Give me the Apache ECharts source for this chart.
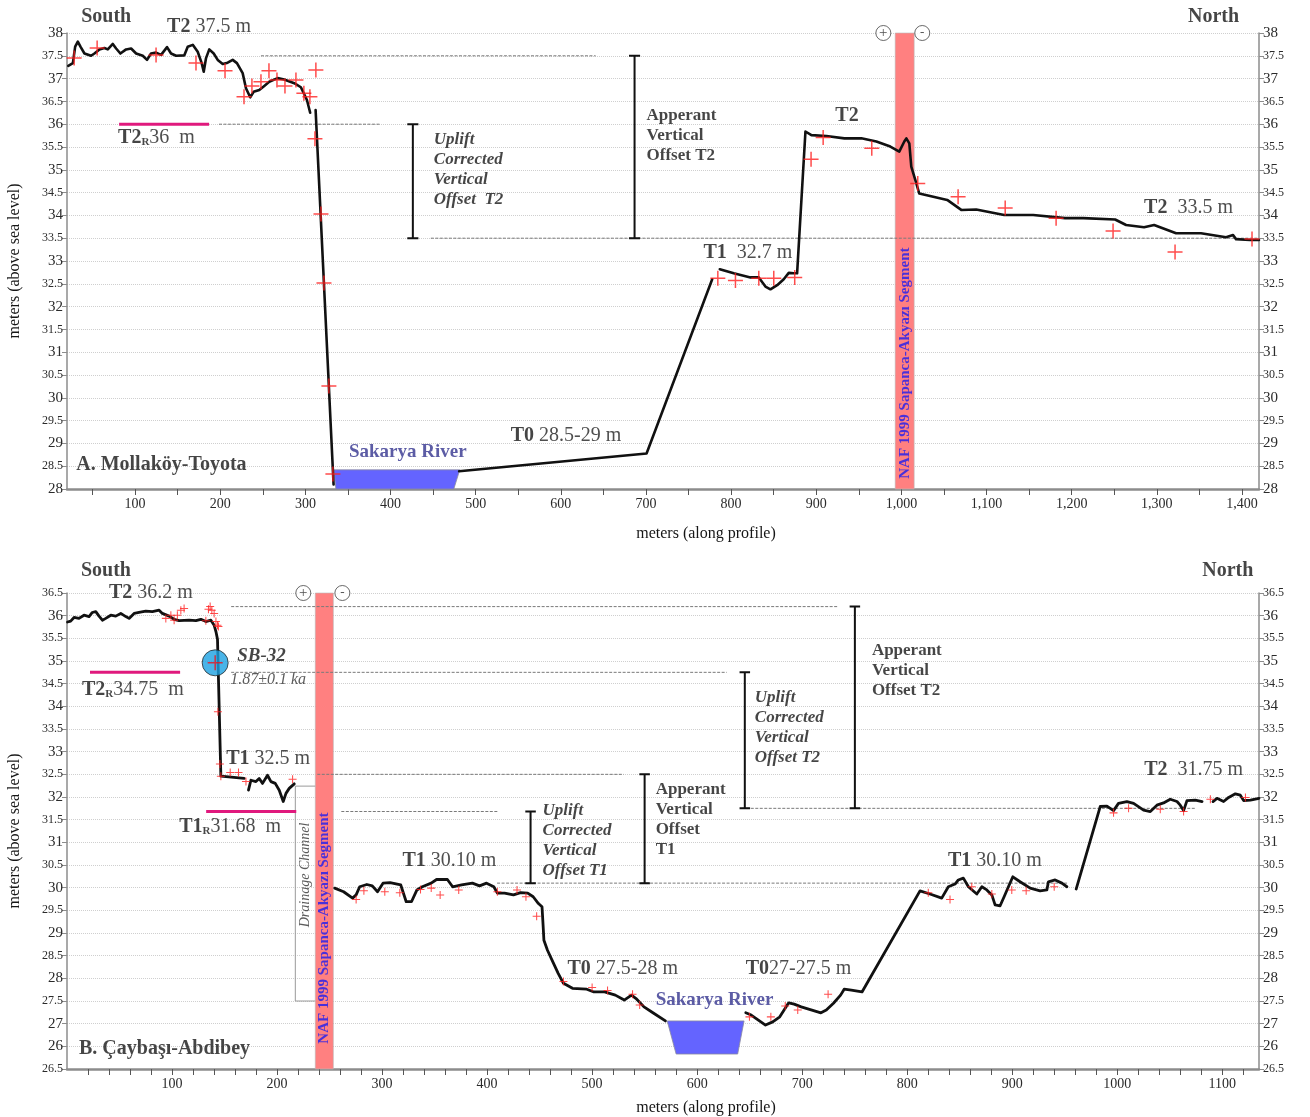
<!DOCTYPE html>
<html>
<head>
<meta charset="utf-8">
<script src="https://cdn.jsdelivr.net/npm/echarts@6/dist/echarts.min.js"></script>
<style>
  html, body { margin: 0; padding: 0; background: #fff; }
  #chart { width: 1310px; height: 1117px; }
</style>
</head>
<body>
<div id="chart"></div>
<script>
// ================= Panel A: Mollaköy-Toyota =================
const topYTickLabels = ['28','28.5','29','29.5','30','30.5','31','31.5','32','32.5','33','33.5','34','34.5','35','35.5','36','36.5','37','37.5','38'];
const topXLabelValues = [100,200,300,400,500,600,700,800,900,1000,1100,1200,1300,1400];
const topXLabels = ['100','200','300','400','500','600','700','800','900','1,000','1,100','1,200','1,300','1,400'];
const topXTickValues = [50,100,150,200,250,300,350,400,450,500,550,600,650,700,750,800,850,900,950,1000,1050,1100,1150,1200,1250,1300,1350,1400];

// elevation profile (distance m, elevation m)
const topSouthTerrace = [[21.5,37.28],[26.9,37.34],[29.6,37.70],[32.7,37.81],[35.8,37.70],[40.5,37.55],[48.3,37.50],[52.2,37.55],[58.1,37.64],[63.9,37.67],[67.9,37.64],[73.8,37.76],[77.7,37.66],[82.7,37.55],[89.4,37.64],[95.3,37.66],[101.2,37.55],[109.0,37.50],[114.0,37.41],[118.7,37.55],[124.6,37.57],[130.5,37.52],[137.5,37.69],[142.2,37.55],[148.1,37.50],[157.8,37.51],[161.8,37.70],[167.7,37.74],[173.5,37.59],[178.2,37.34],[180.6,37.15],[183.3,37.45],[187.1,37.64],[192.3,37.55],[197.0,37.41],[202.9,37.32],[208.7,37.35],[214.6,37.41],[219.6,37.34],[226.3,37.12],[230.2,36.79],[235.2,36.59],[239.2,36.71],[245.8,36.75],[251.7,36.84],[257.5,36.93],[267.4,37.01],[275.1,36.98],[286.9,36.90],[294.7,36.81],[301.8,36.53],[305.6,36.25]];
const topScarp = [[312.0,36.31],[333.1,28.10]];
const topT0 = [[480.5,28.39],[700.7,28.78],[777.8,32.60]];
const topNorth = [[786.7,32.82],[803.1,32.73],[822.7,32.64],[832.5,32.64],[840.3,32.44],[846.2,32.38],[854.1,32.47],[861.8,32.60],[867.7,32.74],[873.5,32.73],[877.5,32.73],[887.3,35.84],[894.3,35.76],[911.9,35.74],[933.0,35.69],[953.0,35.69],[970.6,35.62],[987.0,35.51],[997.5,35.40],[1003.4,35.62],[1005.8,35.69],[1009.3,35.58],[1011.6,35.07],[1016.3,34.78],[1021.0,34.48],[1037.4,34.41],[1053.8,34.34],[1070.3,34.12],[1087.9,34.13],[1120.7,34.01],[1154.8,34.01],[1192.3,33.94],[1213.5,33.94],[1251.0,33.91],[1263.9,33.79],[1285.0,33.74],[1296.8,33.79],[1322.6,33.61],[1351.9,33.61],[1381.3,33.52],[1389.5,33.57],[1393.0,33.48],[1409.4,33.46],[1420,33.46]];
const topSurveyPoints = [[28.4,37.45],[55.4,37.67],[124.6,37.52],[171.5,37.34],[205.6,37.17],[227.9,36.60],[237.2,36.84],[247.8,36.93],[257.2,37.17],[266.6,36.97],[276.0,36.84],[288.9,36.97],[298.2,36.68],[305.3,36.60],[312.3,37.19],[311.2,35.68],[318.3,34.03],[321.8,32.52],[327.6,30.26],[332.3,28.33],[784.4,32.62],[805.1,32.57],[832.5,32.62],[850.1,32.62],[874.7,32.64],[893.9,35.23],[908.1,35.71],[965.2,35.47],[1019.2,34.70],[1066.6,34.41],[1121.9,34.16],[1181.7,33.94],[1248.6,33.66],[1321.4,33.20],[1411.8,33.48]];
const topRiver = [[333.5,28.42],[481.3,28.42],[474.3,28.0],[335.8,28.0]];
const topFaultZone = [992.7, 1015.0];
// terrace levels (m)
const topT2South = 37.5, topT2Restored = 36, topT2North = 33.5;
const topRefSpans = [[topT2South, 247.8, 640.9], [topT2Restored, 198.5, 388.6], [topT2North, 447.3, 1420]];
const topRestoredBar = [81.2, 186.9];
const topOffsetBars = [[426.2, topT2Restored, topT2North], [686.6, topT2South, topT2North]];

// ================= Panel B: Çaybaşı-Abdibey =================
const botYTickLabels = ['26.5','26','27','27.5','28','28.5','29','29.5','30','30.5','31','31.5','32','32.5','33','33.5','34','34.5','35','35.5','36','36.5'];
const botXLabelValues = [100,200,300,400,500,600,700,800,900,1000,1100];
const botXLabels = ['100','200','300','400','500','600','700','800','900','1000','1100'];
const botXTickValues = [20,40,60,80,100,120,140,160,180,200,220,240,260,280,300,320,340,360,380,400,420,440,460,480,500,520,540,560,580,600,620,640,660,680,700,720,740,760,780,800,820,840,860,880,900,920,940,960,980,1000,1020,1040,1060,1080,1100,1120];

const botSouth = [[0.5,35.86],[3.5,35.88],[6.7,35.96],[11.4,35.94],[16.2,36.01],[21.0,35.98],[24.1,36.07],[27.4,36.09],[30.5,35.99],[33.7,35.90],[36.9,35.94],[41.7,36.01],[46.4,35.99],[51.2,36.05],[56.0,35.98],[59.1,35.94],[63.9,36.05],[68.6,36.07],[75.0,36.10],[81.3,36.09],[87.7,36.12],[90.8,36.05],[97.2,35.99],[102.0,35.92],[106.8,35.89],[116.3,35.90],[122.7,35.89],[127.5,35.92],[132.2,35.87],[137.0,35.90],[140.1,35.79],[141.8,35.65],[143.3,35.48],[146.5,32.46],[168.7,32.41]];
const botT1SouthProfile = [[172.8,32.15],[175.1,32.37],[179.9,32.34],[183.0,32.41],[186.2,32.30],[190.9,32.48],[194.2,32.34],[198.3,32.30],[202.1,32.15],[205.9,31.90],[208.5,32.08],[211.6,32.19],[216.4,32.29]];
const botValleyWest = [[254.9,29.99],[263.4,29.91],[271.9,29.77],[275.3,29.84],[278.7,30.02],[285.5,30.07],[290.7,30.04],[295.7,29.91],[300.9,30.10],[307.6,30.11],[317.8,30.06],[323.0,29.69],[328.0,29.69],[333.2,29.95],[338.3,30.02],[346.8,30.10],[351.9,30.18],[362.2,30.18],[367.2,30.02],[375.7,30.06],[386.0,30.10],[392.8,30.04],[399.5,30.10],[406.4,30.02],[409.8,29.88],[416.6,29.88],[425.1,29.84],[431.9,29.89],[438.7,29.88],[443.9,29.80],[448.9,29.65],[452.3,29.58],[453.4,29.14],[454.1,28.84],[457.5,28.62],[462.5,28.37],[467.7,28.11],[472.7,27.89],[481.3,27.78],[494.9,27.76],[501.7,27.70],[511.9,27.70],[522.1,27.63],[530.6,27.52],[537.5,27.63],[542.5,27.54],[549.4,27.37],[557.9,27.24],[569.8,27.06]];
const botValleyEast = [[646.3,27.24],[651.5,27.19],[658.3,27.08],[665.1,26.97],[672.0,27.04],[678.7,27.15],[687.2,27.46],[692.4,27.43],[699.1,27.37],[709.3,27.30],[717.9,27.24],[723.0,27.30],[729.8,27.45],[736.6,27.63],[740.0,27.76],[746.8,27.74],[757.0,27.70],[812.2,29.93],[821.7,29.86],[832.9,29.77],[839.2,30.02],[845.6,30.08],[848.7,30.17],[853.5,30.21],[858.3,30.02],[866.3,29.86],[871.1,30.02],[875.8,29.95],[880.6,29.84],[883.7,29.62],[888.5,29.60],[892.3,29.80],[896.4,30.02],[900.6,30.24],[907.5,30.13],[917.1,29.99],[926.6,29.93],[933.0,29.95],[934.5,30.13],[940.9,30.17],[947.3,30.10],[952.1,30.02]];
const botT2NorthA = [[960.9,29.97],[983.8,31.79],[990.2,31.80],[996.5,31.70],[1001.2,31.86],[1009.2,31.90],[1015.6,31.86],[1025.1,31.71],[1031.5,31.68],[1037.8,31.82],[1044.1,31.87],[1050.5,31.95],[1056.9,31.90],[1060.0,31.82],[1063.2,31.70],[1066.4,31.92],[1074.4,31.93],[1080.8,31.90]];
const botT2NorthB = [[1091.2,31.90],[1095.0,31.97],[1101.3,31.90],[1106.1,31.99],[1112.5,32.07],[1117.2,32.04],[1120.4,31.92],[1126.8,31.93],[1135,31.97]];
const botSurveyPoints = [[94.1,35.94],[98.9,36.01],[102.0,35.90],[105.1,36.01],[108.4,36.12],[111.5,36.16],[132.2,35.89],[134.7,36.14],[136.3,36.20],[137.9,36.12],[140.1,36.05],[141.8,35.87],[143.3,35.79],[144.2,35.76],[143.7,33.88],[145.6,32.73],[146.5,32.46],[155.4,32.54],[163.3,32.54],[170.4,32.34],[214.8,32.39],[275.3,29.74],[282.7,29.93],[302.6,29.91],[316.9,29.89],[336.6,29.96],[346.8,29.99],[355.3,29.84],[373.0,29.95],[409.8,29.91],[428.5,29.95],[437.0,29.80],[447.2,29.37],[472.7,27.93],[500.0,27.80],[514.7,27.73],[538.5,27.65],[545.3,27.41],[649.8,27.15],[670.2,27.15],[683.9,27.39],[695.8,27.30],[724.7,27.65],[820.1,29.89],[840.8,29.74],[861.5,30.02],[880.6,29.86],[899.6,29.95],[913.3,29.93],[940.0,30.02],[996.5,31.65],[1010.8,31.75],[1041.0,31.73],[1063.2,31.68],[1088.7,31.95],[1122.1,31.99]];
const botSample = [141.1, 34.96];   // SB-32 dating sample
const botRiver = [[571.5,27.06],[644.7,27.06],[638.6,26.33],[580.0,26.33]];
const botFaultZone = [236.4, 253.6];
const botDrainage = [[236.4,32.24],[217.4,32.24],[217.4,27.5],[236.4,27.5]];
const botT2South = 36.2, botT2Restored = 34.75, botT1South = 32.5, botT1Restored = 31.68, botT2North = 31.75, botT1North = 30.10;
const botRefSpans = [[botT2South,156.3,734.0],[botT2Restored,156.3,628.2],[botT1South,238.3,530.0],[botT1Restored,261.2,410.9],[botT1North,409.5,953.3],[botT2North,642.5,1074.4]];
const botRestoredBars = [[botT2Restored, 21.9, 107.7], [botT1Restored, 132.5, 218.3]];
const botOffsetBars = [[441.4, botT1Restored, botT1North], [550.0, botT1South, botT1North], [645.4, botT2Restored, botT2North], [750.2, botT2South, botT2North]];

// ================= styling helpers =================
const FONT = "'Liberation Serif', 'DejaVu Serif', serif";
const INK = '#161616';
const AXIS = '#8c8c8c';
const PLUS_BIG = 'path://M0,4.5H10V5.5H0Z M4.5,0H5.5V10H4.5Z';
const PLUS_SMALL = 'path://M0,4.35H10V5.65H0Z M4.35,0H5.65V10H4.35Z';

function yTickFormatter(labels, min) {
  return function (v) {
    const t = labels[Math.round((v - min) / 0.5)];
    if (t === undefined) return '';
    return t.indexOf('.') >= 0 ? '{h|' + t + '}' : '{i|' + t + '}';
  };
}
function yAxis(gridIndex, position, min, max, labels) {
  const left = position === 'left';
  return {
    type: 'value', gridIndex, position, min, max, interval: 0.5,
    name: left ? 'meters (above sea level)' : '',
    nameLocation: 'middle', nameGap: 44, nameRotate: 90,
    nameTextStyle: { fontFamily: FONT, fontSize: 16, color: INK },
    axisLine: { show: true, onZero: false, lineStyle: { color: AXIS, width: 1.5 } },
    axisTick: { show: true, length: 5, lineStyle: { color: AXIS, width: 1 } },
    axisLabel: {
      margin: 4, color: '#2a2a2a', fontFamily: FONT,
      formatter: yTickFormatter(labels, min),
      rich: { i: { fontFamily: FONT, fontSize: 15, color: '#2a2a2a' }, h: { fontFamily: FONT, fontSize: 12, color: '#2a2a2a' } }
    },
    splitLine: { show: left, lineStyle: { color: '#cfcfcf', type: 'dotted', width: 1 } }
  };
}
function xAxis(gridIndex, min, max, labelValues, labels, tickValues, nameGap) {
  return {
    type: 'value', gridIndex, min, max, position: 'bottom',
    name: 'meters (along profile)', nameLocation: 'middle', nameGap,
    nameTextStyle: { fontFamily: FONT, fontSize: 16, color: INK, padding: [0, 0, 0, 86] },
    axisLine: { show: true, onZero: false, lineStyle: { color: AXIS, width: 2.5 } },
    axisTick: { show: true, length: 6, customValues: tickValues, lineStyle: { color: '#555', width: 1 } },
    axisLabel: {
      customValues: labelValues, margin: 8, fontFamily: FONT, fontSize: 14, color: '#2a2a2a',
      formatter: function (v) { const i = labelValues.indexOf(Math.round(v)); return i < 0 ? '' : labels[i]; }
    },
    splitLine: { show: false }
  };
}
function axesOf(p) { return { xAxisIndex: p, yAxisIndex: p * 2 }; }

function profile(p, data, width) {
  return Object.assign({ type: 'line', data, symbol: 'none', showSymbol: false, silent: true,
    lineStyle: { color: '#111', width, cap: 'round', join: 'round' }, z: 5 }, axesOf(p));
}
function levelLine(p, level, x0, x1, style) {
  return Object.assign({ type: 'line', data: [[x0, level], [x1, level]], symbol: 'none', silent: true,
    lineStyle: style, z: 2 }, axesOf(p));
}
function offsetBar(p, x, top, bottom, cap) {
  return Object.assign({ type: 'line', symbol: 'none', silent: true, z: 4,
    data: [[x - cap, top], [x + cap, top], [x, top], [x, bottom], [x - cap, bottom], [x + cap, bottom]],
    lineStyle: { color: '#111', width: 2 } }, axesOf(p));
}
function faultZone(p, range, yMin, yMax) {
  return Object.assign({ type: 'custom', silent: true, z: 1, data: [range],
    renderItem: function (params, api) {
      const a = api.coord([api.value(0), yMax]);
      const b = api.coord([api.value(1), yMin]);
      return { type: 'rect', shape: { x: a[0], y: a[1], width: b[0] - a[0], height: b[1] - a[1] },
        style: { fill: '#ff8080', stroke: '#b8b8b8', lineWidth: 0.6 } };
    } }, axesOf(p));
}
function river(p, corners) {
  return Object.assign({ type: 'custom', silent: true, z: 3, data: [corners.flat()],
    renderItem: function (params, api) {
      const pts = [];
      for (let i = 0; i < 4; i++) pts.push(api.coord([api.value(i * 2), api.value(i * 2 + 1)]));
      return { type: 'polygon', shape: { points: pts }, style: { fill: '#6464ff', stroke: '#8a8aa0', lineWidth: 0.8 } };
    } }, axesOf(p));
}
function survey(p, data, size, path) {
  return Object.assign({ type: 'scatter', data, symbol: path, symbolSize: size, silent: true, z: 7,
    itemStyle: { color: '#ff1f1f' } }, axesOf(p));
}
function senseMarks(p, pts) {
  return Object.assign({ type: 'scatter', silent: true, clip: false, z: 8, symbol: 'circle', symbolSize: 15,
    itemStyle: { color: '#fff', borderColor: '#444', borderWidth: 1 },
    data: pts.map(function (d) {
      return { value: d[0], label: { show: true, position: 'inside', formatter: d[1], fontFamily: FONT, fontSize: d[1] === '+' ? 15 : 13, color: '#222' } };
    }) }, axesOf(p));
}

const RICH = {
  hd: { fontFamily: FONT, fontSize: 20, fontWeight: 'bold', color: INK },
  b: { fontFamily: FONT, fontSize: 20, fontWeight: 'bold', color: INK },
  n: { fontFamily: FONT, fontSize: 20, color: '#222' },
  // terrace names with a lowered subscript
  bs: { fontFamily: FONT, fontSize: 20, fontWeight: 'bold', color: INK, verticalAlign: 'top', lineHeight: 20, padding: [0, 0, 4, 0] },
  ns: { fontFamily: FONT, fontSize: 20, color: '#222', verticalAlign: 'top', lineHeight: 20, padding: [0, 0, 4, 0] },
  sub: { fontFamily: FONT, fontSize: 11, fontWeight: 'bold', color: INK, verticalAlign: 'bottom', lineHeight: 12 },
  riv: { fontFamily: FONT, fontSize: 19, fontWeight: 'bold', color: '#33338f' },
  bi: { fontFamily: FONT, fontSize: 17, fontWeight: 'bold', fontStyle: 'italic', color: INK, lineHeight: 20 },
  bd: { fontFamily: FONT, fontSize: 17, fontWeight: 'bold', color: INK, lineHeight: 20 },
  sb: { fontFamily: FONT, fontSize: 19, fontWeight: 'bold', fontStyle: 'italic', color: INK },
  it: { fontFamily: FONT, fontSize: 16, fontStyle: 'italic', color: '#333' },
  naf: { fontFamily: FONT, fontSize: 15, fontWeight: 'bold', color: '#1c1cf0' },
  dc: { fontFamily: FONT, fontSize: 14, fontStyle: 'italic', color: '#333' }
};
function notes(p, items) {
  return Object.assign({ type: 'scatter', silent: true, clip: false, z: 9, symbolSize: 0,
    label: { show: true, position: 'right', distance: 0, rich: RICH },
    data: items.map(function (it) {
      const lab = { formatter: it.text };
      if (it.rotate) { lab.position = 'inside'; lab.rotate = it.rotate; lab.align = 'center'; lab.verticalAlign = 'middle'; }
      return { value: it.at, label: lab };
    }) }, axesOf(p));
}

const REF_STYLE = { color: '#7a7a7a', width: 1, type: [3, 1.5] };
const RESTORED_STYLE = { color: '#e0197d', width: 3 };

const topNotes = [
  { at: [36.6, 38.35], text: '{hd|South}' },
  { at: [1336.6, 38.35], text: '{hd|North}' },
  { at: [137.5, 38.13], text: '{b|T2}{n| 37.5 m}' },
  { at: [80.0, 35.70], text: '{bs|T2}{sub|R}{ns|36  m}' },
  { at: [30.8, 28.53], text: '{hd|A. Mollaköy-Toyota}' },
  { at: [351.1, 28.81], text: '{riv|Sakarya River}' },
  { at: [541.1, 29.16], text: '{b|T0}{n| 28.5-29 m}' },
  { at: [450.8, 35.0], text: '{bi|Uplift}\n{bi|Corrected}\n{bi|Vertical}\n{bi|Offset  T2}' },
  { at: [700.7, 35.74], text: '{bd|Apperant}\n{bd|Vertical}\n{bd|Offset T2}' },
  { at: [767.6, 33.18], text: '{b|T1}{n|  32.7 m}' },
  { at: [922.4, 36.18], text: '{b|T2}' },
  { at: [1285.0, 34.16], text: '{b|T2}{n|  33.5 m}' },
  { at: [1004.6, 30.76], text: '{naf|NAF 1999 Sapanca-Akyazı Segment}', rotate: 90 }
];
const botNotes = [
  { at: [13.3, 37.0], text: '{hd|South}' },
  { at: [1081.0, 37.0], text: '{hd|North}' },
  { at: [40.0, 36.5], text: '{b|T2}{n| 36.2 m}' },
  { at: [14.3, 34.36], text: '{bs|T2}{sub|R}{ns|34.75  m}' },
  { at: [162.1, 35.11], text: '{sb|SB-32}' },
  { at: [155.4, 34.58], text: '{it|1.87±0.1 ka}' },
  { at: [151.6, 32.84], text: '{b|T1}{n| 32.5 m}' },
  { at: [106.8, 31.34], text: '{bs|T1}{sub|R}{ns|31.68  m}' },
  { at: [654.9, 33.54], text: '{bi|Uplift}\n{bi|Corrected}\n{bi|Vertical}\n{bi|Offset T2}' },
  { at: [766.4, 34.78], text: '{bd|Apperant}\n{bd|Vertical}\n{bd|Offset T2}' },
  { at: [452.8, 31.03], text: '{bi|Uplift}\n{bi|Corrected}\n{bi|Vertical}\n{bi|Offset T1}' },
  { at: [560.5, 31.51], text: '{bd|Apperant}\n{bd|Vertical}\n{bd|Offset}\n{bd|T1}' },
  { at: [319.4, 30.59], text: '{b|T1}{n| 30.10 m}' },
  { at: [476.6, 28.21], text: '{b|T0}{n| 27.5-28 m}' },
  { at: [646.3, 28.21], text: '{b|T0}{n|27-27.5 m}' },
  { at: [560.5, 27.52], text: '{riv|Sakarya River}' },
  { at: [838.9, 30.59], text: '{b|T1}{n| 30.10 m}' },
  { at: [1025.7, 32.60], text: '{b|T2}{n|  31.75 m}' },
  { at: [11.4, 26.44], text: '{hd|B. Çaybaşı-Abdibey}' },
  { at: [226.9, 30.28], text: '{dc|Drainage Channel}', rotate: 90 },
  { at: [245.0, 29.11], text: '{naf|NAF 1999 Sapanca-Akyazı Segment}', rotate: 90 }
];

const series = [];
// panel A
series.push(faultZone(0, topFaultZone, 28, 38));
topRefSpans.forEach(function (r) { series.push(levelLine(0, r[0], r[1], r[2], REF_STYLE)); });
series.push(levelLine(0, topT2Restored, topRestoredBar[0], topRestoredBar[1], RESTORED_STYLE));
topOffsetBars.forEach(function (b) { series.push(offsetBar(0, b[0], b[1], b[2], 6.5)); });
series.push(river(0, topRiver));
[topSouthTerrace, topScarp, topT0, topNorth].forEach(function (d) { series.push(profile(0, d, 2.6)); });
series.push(survey(0, topSurveyPoints, 15, PLUS_BIG));
series.push(senseMarks(0, [[[978.8, 38], '+'], [[1024.5, 38], '-']]));
series.push(notes(0, topNotes));
// panel B
series.push(Object.assign({ type: 'line', data: botDrainage, symbol: 'none', silent: true, z: 1,
  lineStyle: { color: '#9a9a9a', width: 1 } }, axesOf(1)));
series.push(faultZone(1, botFaultZone, 26, 36.5));
botRefSpans.forEach(function (r) { series.push(levelLine(1, r[0], r[1], r[2], REF_STYLE)); });
botRestoredBars.forEach(function (r) { series.push(levelLine(1, r[0], r[1], r[2], RESTORED_STYLE)); });
botOffsetBars.forEach(function (b) { series.push(offsetBar(1, b[0], b[1], b[2], 5)); });
series.push(river(1, botRiver));
[botSouth, botT1SouthProfile, botValleyWest, botValleyEast, botT2NorthA, botT2NorthB].forEach(function (d) { series.push(profile(1, d, 2.8)); });
series.push(survey(1, botSurveyPoints, 8, PLUS_SMALL));
series.push(Object.assign({ type: 'scatter', data: [botSample], symbol: 'circle', symbolSize: 26, silent: true, z: 8,
  itemStyle: { color: '#1ba1e2', borderColor: '#2a2a2a', borderWidth: 1 } }, axesOf(1)));
series.push(Object.assign({ type: 'scatter', data: [botSample], symbol: PLUS_BIG, symbolSize: 15, silent: true, z: 9,
  itemStyle: { color: '#e8141e' } }, axesOf(1)));
series.push(senseMarks(1, [[[225.0, 36.5], '+'], [[262.2, 36.5], '-']]));
series.push(notes(1, botNotes));

const chart = echarts.init(document.getElementById('chart'));
chart.setOption({
  animation: false,
  backgroundColor: '#ffffff',
  grid: [
    { left: 67, right: 51, top: 33, height: 456, outerBoundsMode: 'none' },
    { left: 67, right: 51, top: 593, height: 476, outerBoundsMode: 'none' }
  ],
  xAxis: [
    xAxis(0, 20, 1420, topXLabelValues, topXLabels, topXTickValues, 37),
    xAxis(1, 0, 1135, botXLabelValues, botXLabels, botXTickValues, 31)
  ],
  yAxis: [
    yAxis(0, 'left', 28, 38, topYTickLabels),
    yAxis(0, 'right', 28, 38, topYTickLabels),
    yAxis(1, 'left', 26, 36.5, botYTickLabels),
    yAxis(1, 'right', 26, 36.5, botYTickLabels)
  ],
  series: series
});
</script>
</body>
</html>
